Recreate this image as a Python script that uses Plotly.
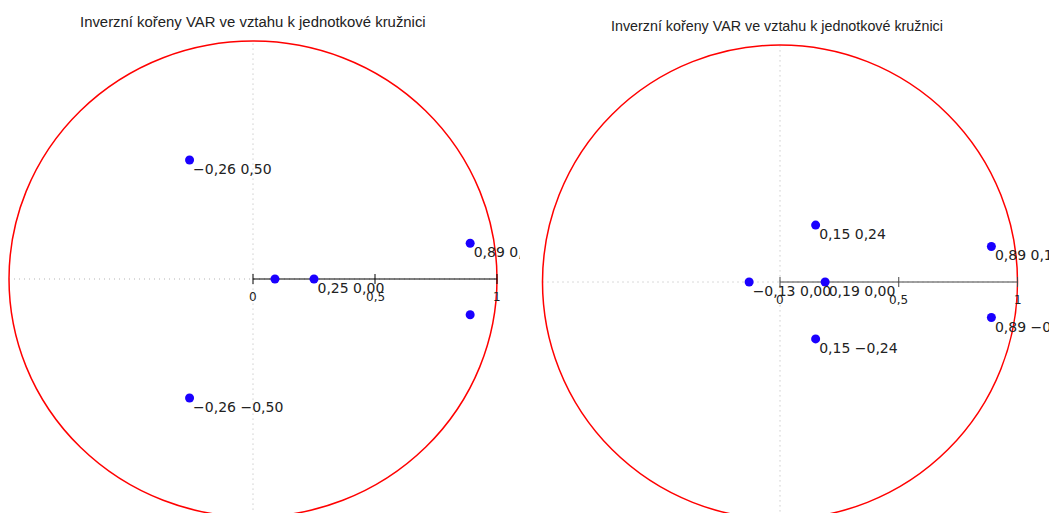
import plotly.graph_objects as go

TITLE = "Inverzní kořeny VAR ve vztahu k jednotkové kružnici"

# Inverse roots of the first VAR (real part, imaginary part) and whether each is annotated
left_re = [-0.26, -0.26, 0.09, 0.25, 0.89, 0.89]
left_im = [0.50, -0.50, 0.00, 0.00, 0.15, -0.15]
left_labeled = [True, True, False, True, True, False]

# Inverse roots of the second VAR
right_re = [-0.13, 0.15, 0.15, 0.19, 0.89, 0.89]
right_im = [0.00, 0.24, -0.24, 0.00, 0.15, -0.15]
right_labeled = [True, True, True, True, True, True]

# Real-axis ticks
tick_vals = [0, 0.5, 1]
tick_text = ["0", "0,5", "1"]

W, H = 1049, 513
SPLIT = 520  # pixel column where the second panel begins

MARKER_COLOR = "#1a00ff"
LABEL_FONT = dict(family="DejaVu Sans", size=14, color="#222222")
TICK_FONT = dict(family="DejaVu Sans", size=12, color="#222222")
TITLE_FONT = dict(family="Liberation Sans, Arial, sans-serif", color="#222222")


def fmt(v):
    s = f"{v:.2f}".replace(".", ",")
    return s.replace("-", "\u2212")


def root_labels(re, im, labeled):
    return [f"{fmt(a)} {fmt(b)}" if on else "" for a, b, on in zip(re, im, labeled)]


fig = go.Figure()

panels = [
    # (xaxis, yaxis, re, im, labeled, centre px x, centre px y, px per unit x, px per unit y,
    #  domain px x0, x1, axis colour, title centre x, title centre y, title size)
    ("x", "y", left_re, left_im, left_labeled, 253, 279, 244, 238, 0, SPLIT, "#000000", 253, 22, 14.9),
    ("x2", "y2", right_re, right_im, right_labeled, 780, 282, 237.5, 237, SPLIT, W, "#444444", 777, 26, 14.3),
]

shapes = []
annotations = []
for (xa, ya, re, im, labeled, cx, cy, sx, sy, d0, d1, axcol, tx, ty, tsize) in panels:
    # root markers
    fig.add_trace(go.Scatter(
        x=re, y=im, xaxis=xa, yaxis=ya, mode="markers",
        marker=dict(size=9, color=MARKER_COLOR),
        cliponaxis=True, showlegend=False, hoverinfo="skip",
    ))
    # root labels (clipped at the panel edge)
    fig.add_trace(go.Scatter(
        x=re, y=im, xaxis=xa, yaxis=ya, mode="markers+text",
        text=root_labels(re, im, labeled),
        textposition="bottom right",
        textfont=LABEL_FONT,
        marker=dict(size=4, color="rgba(0,0,0,0)"),
        cliponaxis=True, showlegend=False, hoverinfo="skip",
    ))

    ref = dict(xref=xa, yref=ya)
    # dotted zero lines
    shapes.append(dict(type="line", x0=-1, x1=1, y0=0, y1=0, layer="below",
                       line=dict(color="#b4b4b4", width=1, dash="1px,4px"), **ref))
    shapes.append(dict(type="line", x0=0, x1=0, y0=-1.2, y1=1, layer="below",
                       line=dict(color="#b4b4b4", width=1, dash="1px,4px"), **ref))
    # unit circle
    shapes.append(dict(type="circle", x0=-1, x1=1, y0=-1, y1=1, layer="below",
                       line=dict(color="#ff0000", width=1.5), **ref))
    # real axis from 0 to 1 with ticks
    shapes.append(dict(type="line", x0=0, x1=1, y0=0, y1=0, layer="below",
                       line=dict(color=axcol, width=1), **ref))
    for tv, tt in zip(tick_vals, tick_text):
        shapes.append(dict(type="line", x0=tv, x1=tv, ysizemode="pixel", yanchor=0,
                           y0=-5, y1=5, layer="below",
                           line=dict(color=axcol, width=1), **ref))
        annotations.append(dict(x=tv, y=0, text=tt, showarrow=False, yshift=-18,
                                xanchor="center", yanchor="middle", font=TICK_FONT, **ref))

    annotations.append(dict(x=tx / W, y=1 - ty / H, xref="paper", yref="paper",
                            text=TITLE, showarrow=False, xanchor="center", yanchor="middle",
                            font=dict(size=tsize, **TITLE_FONT)))

    xr = [(d0 - cx) / sx, (d1 - cx) / sx]
    yr = [(cy - H) / sy, cy / sy]
    axis_common = dict(visible=False, showgrid=False, zeroline=False, fixedrange=True)
    fig.update_layout(**{
        ("xaxis" if xa == "x" else "xaxis2"): dict(domain=[d0 / W, d1 / W], range=xr,
                                                    anchor=ya, **axis_common),
        ("yaxis" if ya == "y" else "yaxis2"): dict(domain=[0, 1], range=yr,
                                                    anchor=xa, **axis_common),
    })

fig.update_layout(
    width=W, height=H,
    margin=dict(l=0, r=0, t=0, b=0),
    paper_bgcolor="white", plot_bgcolor="white",
    shapes=shapes, annotations=annotations,
    showlegend=False,
)

fig.write_html("out.html")
